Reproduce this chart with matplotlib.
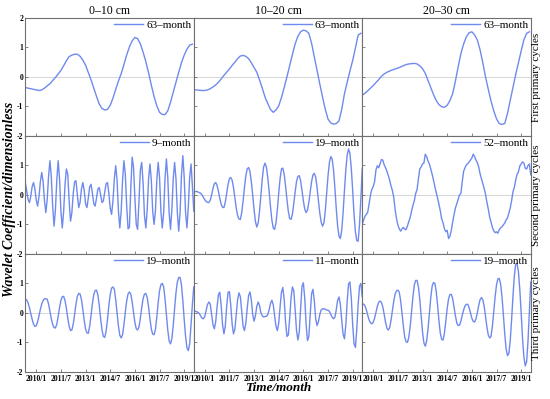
import matplotlib
matplotlib.use("Agg")
import matplotlib.pyplot as plt

plt.rcParams['font.family'] = ['Liberation Serif', 'DejaVu Serif']

# time axis: month index, 0 = 2009/5
months = list(range(124))
months_2 = list(range(0, 124, 2))
tick_pos = [8, 26, 44, 62, 80, 98, 116]
tick_labels = ['2010/1', '2011/7', '2013/1', '2014/7', '2016/1', '2017/7', '2019/1']

depths = ['0\u201310 cm', '10\u201320 cm', '20\u201330 cm']
row_names = ['First primary cycles', 'Second primary cycles', 'Third primary cycles']
periods = [['63', '63', '63'],
           ['9', '19', '52'],
           ['19', '11', '19']]

# first primary cycle (sampled every 2 months)
c1_d1 = [-0.36, -0.38, -0.40, -0.42, -0.44, -0.46, -0.44, -0.38, -0.30, -0.23,
         -0.12, -0.02, 0.10, 0.22, 0.38, 0.55, 0.69, 0.74, 0.77, 0.77,
         0.70, 0.57, 0.40, 0.15, -0.10, -0.38, -0.66, -0.92, -1.07, -1.12,
         -1.10, -0.96, -0.72, -0.42, -0.14, 0.11, 0.42, 0.74, 1.02, 1.22,
         1.34, 1.30, 1.12, 0.84, 0.52, 0.14, -0.28, -0.66, -0.98, -1.20,
         -1.27, -1.28, -1.15, -0.86, -0.52, -0.18, 0.16, 0.48, 0.74, 0.94,
         1.08, 1.11]
c1_d2 = [-0.44, -0.44, -0.45, -0.46, -0.46, -0.44, -0.40, -0.34, -0.27, -0.18,
         -0.07, 0.05, 0.16, 0.27, 0.39, 0.50, 0.62, 0.71, 0.73, 0.70,
         0.62, 0.48, 0.32, 0.16, -0.10, -0.38, -0.68, -0.90, -1.10, -1.20,
         -1.12, -0.98, -0.70, -0.36, 0.00, 0.38, 0.76, 1.12, 1.38, 1.53,
         1.59, 1.56, 1.48, 1.14, 0.68, 0.22, -0.24, -0.68, -1.10, -1.43,
         -1.56, -1.60, -1.58, -1.49, -1.10, -0.57, -0.18, 0.20, 0.56, 0.98,
         1.42, 1.48]
c1_d3 = [-0.62, -0.55, -0.47, -0.38, -0.29, -0.19, -0.09, 0.02, 0.10, 0.16,
         0.20, 0.24, 0.27, 0.30, 0.34, 0.38, 0.42, 0.44, 0.45, 0.46,
         0.44, 0.38, 0.28, 0.12, -0.12, -0.36, -0.60, -0.80, -0.94, -1.01,
         -1.03, -0.96, -0.80, -0.57, -0.14, 0.34, 0.79, 1.12, 1.36, 1.50,
         1.53, 1.43, 1.25, 0.92, 0.48, 0.00, -0.42, -0.82, -1.15, -1.42,
         -1.58, -1.61, -1.58, -1.24, -0.80, -0.36, 0.08, 0.48, 0.88, 1.26,
         1.48, 1.53]

# second primary cycle (monthly)
c2_d1 = [0.42, 0.15, -0.15, -0.26, -0.05, 0.28, 0.42, 0.20, -0.18, -0.38,
         -0.05, 0.45, 0.76, 0.45, -0.20, -0.60, -0.15, 0.65, 1.16, 0.60,
         -0.40, -1.06, -0.50, 0.50, 1.16, 0.55, -0.55, -1.12, -0.55, 0.35,
         0.88, 0.70, -0.20, -0.89, -0.60, 0.05, 0.45, 0.48, 0.00, -0.43,
         -0.25, 0.20, 0.42, 0.15, -0.30, -0.43, -0.10, 0.28, 0.36, 0.05,
         -0.30, -0.38, -0.10, 0.20, 0.25, 0.00, -0.26, -0.20, 0.10, 0.38,
         0.42, 0.05, -0.45, -0.66, -0.20, 0.55, 0.99, 0.50, -0.55, -1.12,
         -0.55, 0.50, 1.16, 0.70, -0.35, -1.15, -1.10, 0.20, 1.28, 0.95,
         -0.10, -1.00, -1.17, -0.20, 0.85, 1.10, 0.40, -0.70, -1.12, -0.50,
         0.55, 1.05, 0.50, -0.55, -1.00, -0.55, 0.50, 1.10, 0.60, -0.55,
         -1.12, -0.60, 0.55, 1.22, 0.60, -0.60, -1.17, -0.50, 0.55, 1.10,
         0.55, -0.60, -1.23, -0.60, 0.65, 1.33, 0.60, -0.60, -1.12, -0.40,
         0.60, 1.05, 0.30, -0.55]
c2_d2 = [0.12, 0.11, 0.12, 0.10, 0.08, 0.06, 0.00, -0.08, -0.16, -0.22,
         -0.25, -0.26, -0.18, 0.00, 0.22, 0.38, 0.42, 0.32, 0.12, -0.12,
         -0.32, -0.42, -0.43, -0.25, 0.05, 0.35, 0.55, 0.59, 0.50, 0.25,
         -0.10, -0.45, -0.70, -0.82, -0.83, -0.60, -0.20, 0.25, 0.65, 0.88,
         0.93, 0.80, 0.45, 0.00, -0.50, -0.90, -1.09, -0.95, -0.55, -0.02,
         0.55, 0.95, 1.08, 0.95, 0.60, 0.12, -0.40, -0.85, -1.12, -1.17,
         -0.95, -0.50, 0.05, 0.55, 0.88, 0.91, 0.70, 0.30, -0.15, -0.55,
         -0.80, -0.83, -0.65, -0.30, 0.10, 0.45, 0.63, 0.65, 0.48, 0.15,
         -0.20, -0.48, -0.60, -0.52, -0.25, 0.10, 0.45, 0.68, 0.73, 0.60,
         0.25, -0.20, -0.62, -0.92, -1.06, -0.95, -0.55, 0.05, 0.65, 1.10,
         1.30, 1.22, 0.85, 0.25, -0.45, -1.05, -1.40, -1.48, -1.20, -0.60,
         0.15, 0.85, 1.35, 1.56, 1.40, 0.90, 0.15, -0.65, -1.25, -1.55,
         -1.57, -1.00, -0.10, 0.90]
c2_d3 = [-1.00, -0.85, -0.72, -0.66, -0.58, -0.30, 0.00, 0.19, 0.28, 0.45,
         0.85, 0.99, 0.92, 1.05, 1.20, 1.18, 1.02, 0.92, 0.80, 0.66,
         0.50, 0.30, 0.15, -0.09, -0.50, -0.80, -1.02, -1.15, -1.23, -1.15,
         -1.10, -1.16, -1.18, -1.05, -0.90, -0.76, -0.55, -0.35, -0.20, 0.05,
         0.18, 0.55, 0.88, 0.95, 1.05, 1.08, 1.38, 1.30, 1.15, 1.05,
         0.88, 0.70, 0.50, 0.28, 0.08, -0.12, -0.32, -0.55, -0.82, -0.95,
         -1.15, -1.25, -1.20, -1.48, -1.40, -1.20, -0.92, -0.66, -0.45, -0.30,
         -0.15, 0.00, 0.05, 0.45, 0.80, 0.92, 1.02, 1.06, 1.12, 1.18,
         1.25, 1.38, 1.30, 1.18, 1.10, 0.95, 0.72, 0.55, 0.38, 0.22,
         0.02, -0.25, -0.48, -0.75, -0.92, -1.10, -1.22, -1.28, -1.25, -1.30,
         -1.18, -1.12, -1.08, -1.02, -0.95, -0.85, -0.78, -0.62, -0.45, -0.20,
         0.10, 0.25, 0.50, 0.70, 0.78, 0.98, 1.05, 1.12, 1.08, 0.90,
         0.88, 1.00, 1.05, 0.68]

# third primary cycle (monthly)
c3_d1 = [0.48, 0.44, 0.34, 0.18, -0.02, -0.22, -0.38, -0.46, -0.44, -0.30,
         -0.10, 0.12, 0.30, 0.42, 0.48, 0.48, 0.46, 0.30, 0.05, -0.20,
         -0.40, -0.50, -0.51, -0.38, -0.12, 0.18, 0.42, 0.55, 0.56, 0.42,
         0.15, -0.18, -0.45, -0.60, -0.58, -0.38, -0.05, 0.30, 0.56, 0.66,
         0.64, 0.45, 0.12, -0.25, -0.55, -0.68, -0.69, -0.45, -0.08, 0.32,
         0.62, 0.76, 0.77, 0.60, 0.25, -0.20, -0.58, -0.80, -0.83, -0.62,
         -0.22, 0.25, 0.62, 0.84, 0.88, 0.80, 0.45, 0.00, -0.45, -0.76,
         -0.85, -0.74, -0.40, 0.02, 0.40, 0.64, 0.71, 0.64, 0.38, 0.02,
         -0.32, -0.54, -0.58, -0.48, -0.18, 0.18, 0.48, 0.64, 0.66, 0.52,
         0.20, -0.20, -0.55, -0.72, -0.74, -0.56, -0.15, 0.35, 0.75, 0.96,
         1.00, 0.88, 0.48, -0.05, -0.58, -0.95, -1.05, -0.88, -0.42, 0.15,
         0.68, 1.05, 1.20, 1.20, 0.95, 0.42, -0.22, -0.80, -1.18, -1.28,
         -1.05, -0.40, 0.30, 0.88]
c3_d2 = [0.08, 0.06, 0.04, 0.02, -0.02, -0.10, -0.18, -0.20, -0.12, 0.08,
         0.28, 0.37, 0.30, -0.05, -0.40, -0.54, -0.30, 0.20, 0.62, 0.70,
         0.25, -0.40, -0.71, -0.45, 0.20, 0.70, 0.72, 0.25, -0.38, -0.71,
         -0.55, -0.05, 0.45, 0.68, 0.55, 0.05, -0.45, -0.60, -0.35, 0.15,
         0.58, 0.71, 0.45, -0.05, -0.28, -0.10, 0.22, 0.37, 0.25, 0.00,
         -0.10, -0.14, -0.12, -0.12, -0.06, 0.10, 0.32, 0.43, 0.28, -0.10,
         -0.45, -0.60, -0.35, 0.20, 0.70, 0.86, 0.45, -0.30, -0.80, -0.75,
         -0.20, 0.50, 0.88, 0.75, 0.10, -0.60, -0.92, -0.65, 0.15, 0.90,
         1.02, 0.50, -0.40, -0.94, -0.80, -0.05, 0.65, 0.80, 0.40, -0.20,
         -0.43, -0.30, -0.05, 0.10, 0.14, 0.14, 0.12, 0.10, 0.09, 0.05,
         -0.05, -0.14, -0.20, -0.15, 0.10, 0.42, 0.54, 0.30, -0.25, -0.72,
         -0.88, -0.40, 0.40, 0.98, 1.05, 0.50, -0.40, -1.05, -1.17, -0.55,
         0.30, 0.90, 1.00, 0.55]
c3_d3 = [0.26, 0.30, 0.24, 0.10, -0.08, -0.24, -0.34, -0.37, -0.32, -0.18,
         0.02, 0.22, 0.36, 0.40, 0.36, 0.20, -0.05, -0.32, -0.52, -0.58,
         -0.50, -0.25, 0.08, 0.40, 0.64, 0.75, 0.77, 0.70, 0.42, 0.00,
         -0.45, -0.82, -0.98, -1.00, -0.82, -0.45, 0.05, 0.55, 0.95, 1.10,
         1.10, 0.88, 0.45, -0.10, -0.65, -1.02, -1.13, -0.95, -0.55, -0.02,
         0.52, 0.90, 1.03, 1.00, 0.72, 0.25, -0.28, -0.70, -0.90, -0.92,
         -0.68, -0.28, 0.15, 0.48, 0.62, 0.63, 0.48, 0.20, -0.10, -0.34,
         -0.43, -0.42, -0.28, -0.08, 0.10, 0.24, 0.29, 0.29, 0.18, 0.00,
         -0.18, -0.29, -0.31, -0.20, 0.00, 0.25, 0.45, 0.52, 0.45, 0.22,
         -0.12, -0.48, -0.75, -0.85, -0.80, -0.45, 0.05, 0.55, 0.95, 1.15,
         1.17, 0.98, 0.55, -0.05, -0.70, -1.22, -1.45, -1.38, -0.95, -0.25,
         0.55, 1.25, 1.65, 1.68, 1.40, 0.80, 0.00, -0.85, -1.50, -1.80,
         -1.65, -0.95, 0.05, 1.05]

series = [[c1_d1, c1_d2, c1_d3],
          [c2_d1, c2_d2, c2_d3],
          [c3_d1, c3_d2, c3_d3]]

line_color = '#6f8aee'

fig, axes = plt.subplots(3, 3, figsize=(5.5, 3.99), dpi=100)
fig.subplots_adjust(left=0.046, right=0.965, top=0.955, bottom=0.068, wspace=0, hspace=0)

for r in range(3):
    for c in range(3):
        ax = axes[r][c]
        y = series[r][c]
        x = months_2 if r == 0 else months
        ax.axhline(0, color='#d0d0d0', lw=0.6, zorder=1)
        ax.plot(x, y, color=line_color, lw=1.0, label=periods[r][c] + '\u2013month', zorder=2)
        ax.set_xlim(0, 123)
        ax.set_ylim(-2, 2)
        ax.set_xticks(tick_pos)
        ax.set_yticks([-2, -1, 0, 1, 2])
        if r == 2:
            ax.set_xticklabels(tick_labels, fontweight='bold')
        else:
            ax.set_xticklabels([])
        if c == 0:
            # the top "2" of lower rows sits under the "-2" of the row above
            top = '2' if r == 0 else ''
            ax.set_yticklabels(['-2', '-1', '0', '1', top], fontweight='bold')
        else:
            ax.set_yticklabels([])
        ax.tick_params(direction='in', length=2, width=0.5, labelsize=5.5, colors='#555555',
                       labelcolor='black')
        ax.tick_params(axis='x', pad=2.5)
        ax.tick_params(axis='y', pad=1.5)
        for sp in ax.spines.values():
            sp.set_color('#707070')
            sp.set_linewidth(0.8)
        ax.legend(loc='upper right', frameon=False, fontsize=8, handlelength=2.6,
                  borderaxespad=0.1, borderpad=0.1, handletextpad=0.3)
        if r == 0:
            ax.set_title(depths[c], fontsize=8.5, pad=3)
        if c == 2:
            ax.text(1.035, 0.5, row_names[r], transform=ax.transAxes, rotation=90,
                    ha='center', va='center', fontsize=8)

fig.text(0.017, 0.5, 'Wavelet Coefficient/dimensionless', rotation=90, ha='center', va='center',
         fontsize=10, fontweight='bold', style='italic')
fig.text(0.505, 0.028, 'Time/month', ha='center', va='center',
         fontsize=9.5, fontweight='bold', style='italic')

fig.savefig('out.png', dpi=100)
